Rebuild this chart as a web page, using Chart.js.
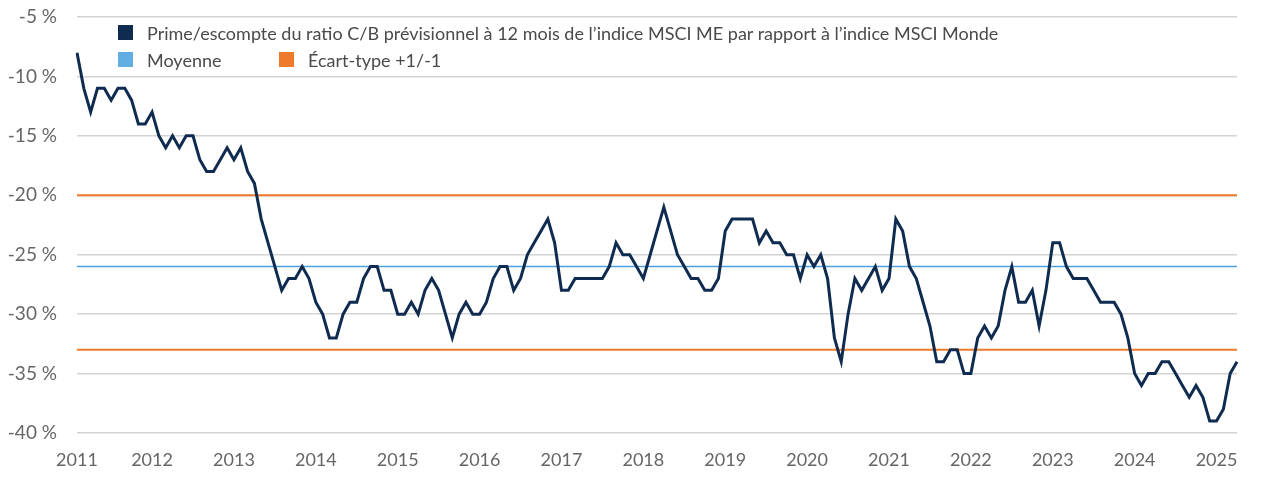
<!DOCTYPE html>
<html>
<head>
<meta charset="utf-8">
<script src="https://cdn.jsdelivr.net/npm/chart.js@4/dist/chart.umd.min.js"></script>
<style>
  html, body { margin: 0; padding: 0; background: #fff; }
  .wrap { position: relative; width: 1280px; height: 491px; }
  .legend { position: absolute; left: 118px; top: 19px; font-family: Lato, sans-serif; font-size: 18px; color: #4a4a4a; }
  .legend .row { display: flex; height: 27px; align-items: center; }
  .legend .item { display: flex; align-items: center; white-space: nowrap; }
  .legend .box { width: 15px; height: 15px; margin-right: 14px; }
  .legend .row2 .item:first-child { width: 161px; }
</style>
</head>
<body>
<div class="wrap">
  <canvas id="chart" width="1280" height="491"></canvas>
  <div class="legend" id="legend"></div>
</div>
<script>
// monthly series, starting Feb 2011
const startYear = 2011;
const startMonth = 2;
const values = [
  -8, -11, -13, -11, -11, -12, -11, -11, -12, -14, -14,
  -13, -15, -16, -15, -16, -15, -15, -17, -18, -18, -17, -16,
  -17, -16, -18, -19, -22, -24, -26, -28, -27, -27, -26, -27,
  -29, -30, -32, -32, -30, -29, -29, -27, -26, -26, -28, -28,
  -30, -30, -29, -30, -28, -27, -28, -30, -32, -30, -29, -30,
  -30, -29, -27, -26, -26, -28, -27, -25, -24, -23, -22, -24,
  -28, -28, -27, -27, -27, -27, -27, -26, -24, -25, -25, -26,
  -27, -25, -23, -21, -23, -25, -26, -27, -27, -28, -28, -27,
  -23, -22, -22, -22, -22, -24, -23, -24, -24, -25, -25, -27,
  -25, -26, -25, -27, -32, -34, -30, -27, -28, -27, -26, -28,
  -27, -22, -23, -26, -27, -29, -31, -34, -34, -33, -33, -35,
  -35, -32, -31, -32, -31, -28, -26, -29, -29, -28, -31, -28,
  -24, -24, -26, -27, -27, -27, -28, -29, -29, -29, -30, -32,
  -35, -36, -35, -35, -34, -34, -35, -36, -37, -36, -37, -39,
  -39, -38, -35, -34
];
const meanValue = -26;
const stdUpper = -20;
const stdLower = -33;
const yMin = -40;
const yMax = -5;
const yStep = 5;

const legendLabels = [
  'Prime/escompte du ratio C/B prévisionnel à 12 mois de l’indice MSCI ME par rapport à l’indice MSCI Monde',
  'Moyenne',
  'Écart-type +1/-1'
];
const legendColors = ['#0f2b50', '#62aee2', '#ee7a2b'];

const months = values.map((_, i) => {
  const m = startMonth - 1 + i;
  return (startYear + Math.floor(m / 12)) + '-' + String(m % 12 + 1).padStart(2, '0');
});
const first = months[0];
const last = months[months.length - 1];

const flat = (v) => [{ x: first, y: v }, { x: last, y: v }];

new Chart(document.getElementById('chart'), {
  type: 'line',
  data: {
    labels: months,
    datasets: [
      { label: legendLabels[0], data: values, borderColor: legendColors[0], borderWidth: 3, pointRadius: 0, tension: 0 },
      { label: legendLabels[1], data: flat(meanValue), borderColor: '#4f9fde', borderWidth: 1.5, pointRadius: 0 },
      { label: legendLabels[2], data: flat(stdUpper), borderColor: legendColors[2], borderWidth: 2, pointRadius: 0 },
      { label: legendLabels[2], data: flat(stdLower), borderColor: legendColors[2], borderWidth: 2, pointRadius: 0 }
    ]
  },
  options: {
    responsive: false,
    animation: false,
    devicePixelRatio: 1,
    layout: { padding: { top: 17, right: 43, left: 0, bottom: 0 } },
    plugins: { legend: { display: false }, tooltip: { enabled: false } },
    scales: {
      x: {
        grid: { display: false },
        border: { display: false },
        afterFit: (s) => { s.height = 58; },
        ticks: {
          autoSkip: false,
          maxRotation: 0,
          padding: 8,
          color: '#666',
          font: { family: 'Lato', size: 18 },
          callback: function (v, i) {
            const l = this.getLabelForValue(v);
            return (i === 0 || l.endsWith('-01')) ? l.slice(0, 4) : '';
          }
        }
      },
      y: {
        min: yMin,
        max: yMax,
        border: { display: false },
        grid: { color: '#d4d4d4', lineWidth: 1.5, drawTicks: false },
        afterFit: (s) => { s.width = 77; s.paddingTop = 0; s.paddingBottom = 0; },
        ticks: {
          stepSize: yStep,
          padding: 20,
          color: '#666',
          font: { family: 'Lato', size: 19 },
          callback: (v) => v + ' %'
        }
      }
    }
  }
});

// legend: row 1 = main series, row 2 = mean + std band
const legend = document.getElementById('legend');
const rows = [[0], [1, 2]];
rows.forEach((r, ri) => {
  const row = document.createElement('div');
  row.className = 'row row' + (ri + 1);
  r.forEach((k) => {
    const item = document.createElement('div');
    item.className = 'item';
    item.innerHTML = `<span class="box" style="background:${legendColors[k]}"></span><span>${legendLabels[k]}</span>`;
    row.appendChild(item);
  });
  legend.appendChild(row);
});
</script>
</body>
</html>
